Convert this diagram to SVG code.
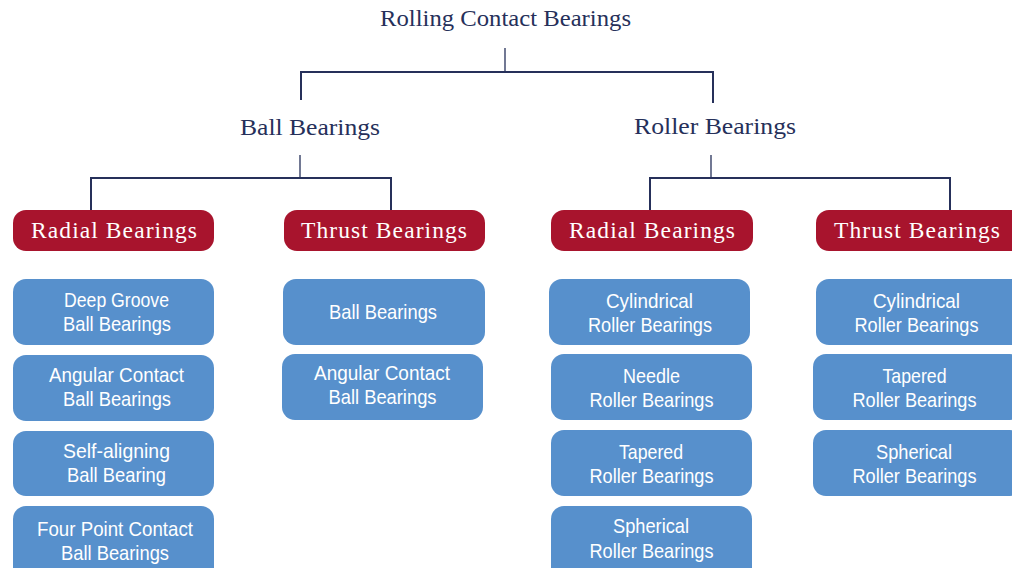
<svg xmlns="http://www.w3.org/2000/svg" width="1012" height="568" viewBox="0 0 1012 568">
<style>
.hd{font-family:"Liberation Serif","Times New Roman",serif;font-size:24px;fill:#26305a;text-anchor:middle}
.rb{fill:#a8142d}
.rt{font-family:"Liberation Serif","Times New Roman",serif;font-size:23.5px;fill:#ffffff;text-anchor:middle}
.bb{fill:#5790cc}
.bt{font-family:"Liberation Sans",Arial,sans-serif;font-size:21px;fill:#ffffff;text-anchor:middle}
.ln{fill:none;stroke:#26305a;stroke-width:2}
.thin{fill:none;stroke:#26305a;stroke-width:1.3}
</style>
<g id="connectors">
<path class="thin" d="M505,48V72"/>
<path class="ln" d="M301,100V72H713V103"/>
<path class="thin" d="M300,155V178"/>
<path class="ln" d="M91,210V178H391V210"/>
<path class="thin" d="M711,155V178"/>
<path class="ln" d="M650,210V178H950V210"/>
</g>
<g id="root"><text class="hd" x="505.5" y="26" textLength="251" lengthAdjust="spacingAndGlyphs">Rolling Contact Bearings</text></g>
<g id="ball"><text class="hd" x="310" y="135" textLength="140" lengthAdjust="spacingAndGlyphs">Ball Bearings</text></g>
<g id="roller"><text class="hd" x="715" y="134" textLength="162" lengthAdjust="spacingAndGlyphs">Roller Bearings</text></g>
<g id="ball-radial"><rect class="rb" x="13" y="210" width="201" height="41" rx="13"/><text class="rt" x="114" y="238" textLength="166">Radial Bearings</text></g>
<g id="ball-thrust"><rect class="rb" x="284" y="210" width="201" height="41" rx="13"/><text class="rt" x="384" y="238" textLength="166">Thrust Bearings</text></g>
<g id="roller-radial"><rect class="rb" x="551" y="210" width="202" height="41" rx="13"/><text class="rt" x="652" y="238" textLength="166">Radial Bearings</text></g>
<g id="roller-thrust"><rect class="rb" x="816" y="210" width="210" height="41" rx="13"/><text class="rt" x="917" y="238" textLength="166">Thrust Bearings</text></g>
<g id="deep-groove"><rect class="bb" x="13" y="279" width="201" height="66" rx="13"/><text class="bt" x="116.5" y="307" textLength="105" lengthAdjust="spacingAndGlyphs">Deep Groove</text><text class="bt" x="117" y="331" textLength="108" lengthAdjust="spacingAndGlyphs">Ball Bearings</text></g>
<g id="angular-radial"><rect class="bb" x="13" y="355" width="201" height="66" rx="13"/><text class="bt" x="116.5" y="382" textLength="135" lengthAdjust="spacingAndGlyphs">Angular Contact</text><text class="bt" x="117" y="406" textLength="108" lengthAdjust="spacingAndGlyphs">Ball Bearings</text></g>
<g id="self-aligning"><rect class="bb" x="13" y="431" width="201" height="65" rx="13"/><text class="bt" x="116.5" y="458" textLength="107" lengthAdjust="spacingAndGlyphs">Self-aligning</text><text class="bt" x="116.5" y="482" textLength="99" lengthAdjust="spacingAndGlyphs">Ball Bearing</text></g>
<g id="four-point"><rect class="bb" x="13" y="506" width="201" height="80" rx="13"/><text class="bt" x="115" y="536" textLength="156" lengthAdjust="spacingAndGlyphs">Four Point Contact</text><text class="bt" x="115" y="560" textLength="108" lengthAdjust="spacingAndGlyphs">Ball Bearings</text></g>
<g id="thrust-ball"><rect class="bb" x="283" y="279" width="202" height="66" rx="13"/><text class="bt" x="383" y="319" textLength="108" lengthAdjust="spacingAndGlyphs">Ball Bearings</text></g>
<g id="angular-thrust"><rect class="bb" x="282" y="354" width="201" height="66" rx="13"/><text class="bt" x="382" y="380" textLength="136" lengthAdjust="spacingAndGlyphs">Angular Contact</text><text class="bt" x="382.5" y="404" textLength="108" lengthAdjust="spacingAndGlyphs">Ball Bearings</text></g>
<g id="cyl-radial"><rect class="bb" x="549" y="279" width="201" height="66" rx="13"/><text class="bt" x="649.5" y="308" textLength="87" lengthAdjust="spacingAndGlyphs">Cylindrical</text><text class="bt" x="650" y="332" textLength="124" lengthAdjust="spacingAndGlyphs">Roller Bearings</text></g>
<g id="needle"><rect class="bb" x="551" y="354" width="201" height="66" rx="13"/><text class="bt" x="651.5" y="383" textLength="57" lengthAdjust="spacingAndGlyphs">Needle</text><text class="bt" x="651.5" y="407" textLength="124" lengthAdjust="spacingAndGlyphs">Roller Bearings</text></g>
<g id="tapered-radial"><rect class="bb" x="551" y="430" width="201" height="66" rx="13"/><text class="bt" x="651" y="459" textLength="64" lengthAdjust="spacingAndGlyphs">Tapered</text><text class="bt" x="651.5" y="483" textLength="124" lengthAdjust="spacingAndGlyphs">Roller Bearings</text></g>
<g id="spherical-radial"><rect class="bb" x="551" y="506" width="201" height="80" rx="13"/><text class="bt" x="651" y="533" textLength="76" lengthAdjust="spacingAndGlyphs">Spherical</text><text class="bt" x="651.5" y="558" textLength="124" lengthAdjust="spacingAndGlyphs">Roller Bearings</text></g>
<g id="cyl-thrust"><rect class="bb" x="816" y="279" width="210" height="66" rx="13"/><text class="bt" x="916.5" y="308" textLength="87" lengthAdjust="spacingAndGlyphs">Cylindrical</text><text class="bt" x="916.5" y="332" textLength="124" lengthAdjust="spacingAndGlyphs">Roller Bearings</text></g>
<g id="tapered-thrust"><rect class="bb" x="813" y="354" width="210" height="66" rx="13"/><text class="bt" x="914.5" y="383" textLength="64" lengthAdjust="spacingAndGlyphs">Tapered</text><text class="bt" x="914.5" y="407" textLength="124" lengthAdjust="spacingAndGlyphs">Roller Bearings</text></g>
<g id="spherical-thrust"><rect class="bb" x="813" y="430" width="210" height="66" rx="13"/><text class="bt" x="914" y="459" textLength="76" lengthAdjust="spacingAndGlyphs">Spherical</text><text class="bt" x="914.5" y="483" textLength="124" lengthAdjust="spacingAndGlyphs">Roller Bearings</text></g>
</svg>
